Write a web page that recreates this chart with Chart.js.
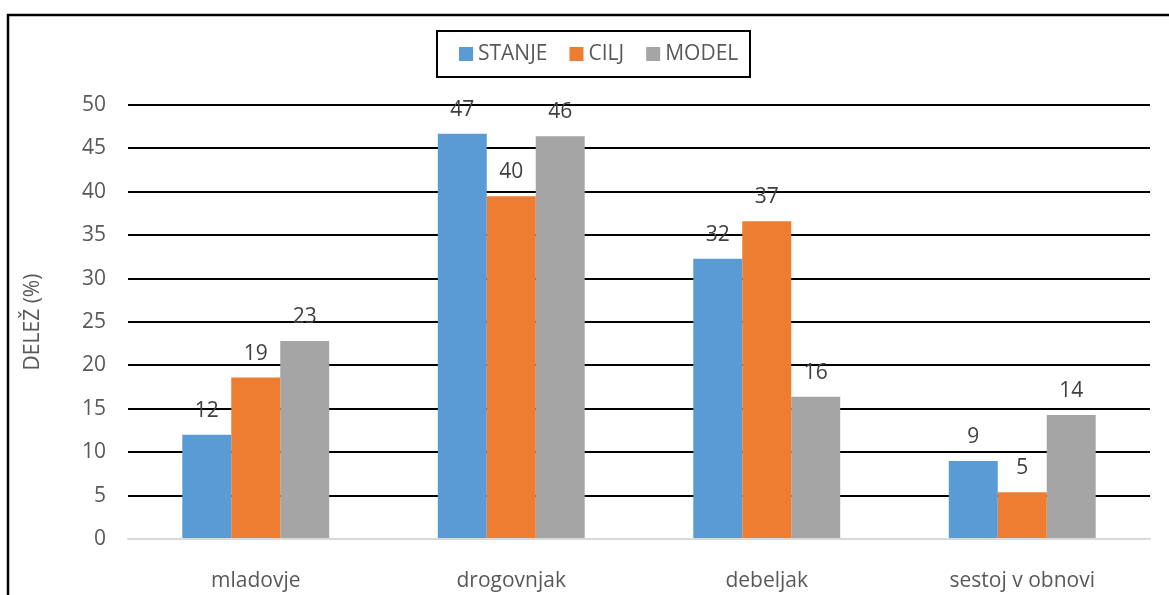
<!DOCTYPE html>
<html>
<head>
<meta charset="utf-8">
<script src="https://cdn.jsdelivr.net/npm/chart.js@4.4.1/dist/chart.umd.min.js"></script>
<style>
  body { margin: 0; background: #fff; }
  canvas { display: block; }
</style>
</head>
<body>
<canvas id="myChart" width="1169" height="595"></canvas>
<script>
const categories = ['mladovje', 'drogovnjak', 'debeljak', 'sestoj v obnovi'];
const stanje = [12.0, 46.7, 32.3, 9.0];
const cilj = [18.6, 39.5, 36.6, 5.4];
const model = [22.8, 46.4, 16.4, 14.3];
const yTicks = [0, 5, 10, 15, 20, 25, 30, 35, 40, 45, 50];

const seriesNames = ['STANJE', 'CILJ', 'MODEL'];
const seriesColors = ['#5B9BD5', '#ED7D31', '#A5A5A5'];

const FONT = "'Open Sans', sans-serif";

// outer frame plus the boxed legend at the top
const framePlugin = {
  id: 'frame',
  afterDraw(chart) {
    const ctx = chart.ctx;
    ctx.save();
    ctx.strokeStyle = '#000';
    ctx.lineWidth = 2.5;
    ctx.strokeRect(8, 15, 1200, 700);

    // legend box
    ctx.lineWidth = 2;
    ctx.strokeRect(437, 31, 313, 46);
    ctx.font = '21px ' + FONT;
    ctx.textBaseline = 'middle';
    let x = 459;
    chart.data.datasets.forEach((ds) => {
      ctx.fillStyle = ds.backgroundColor;
      ctx.fillRect(x, 47, 14, 14);
      ctx.fillStyle = '#595959';
      ctx.fillText(ds.label, x + 19, 54);
      x += 19 + ctx.measureText(ds.label).width + 22;
    });
    ctx.restore();
  }
};

// rounded value above each bar
const valueLabels = {
  id: 'valueLabels',
  afterDatasetsDraw(chart) {
    const ctx = chart.ctx;
    ctx.save();
    ctx.font = '21px ' + FONT;
    ctx.fillStyle = '#404040';
    ctx.textAlign = 'center';
    ctx.textBaseline = 'alphabetic';
    chart.data.datasets.forEach((ds, i) => {
      chart.getDatasetMeta(i).data.forEach((bar, j) => {
        ctx.fillText(Math.round(ds.data[j]), bar.x, bar.y - 18);
      });
    });
    ctx.restore();
  }
};

const ctx = document.getElementById('myChart');
const myChart = new Chart(ctx, {
  type: 'bar',
  data: {
    labels: categories,
    datasets: [
      { label: seriesNames[0], data: stanje, backgroundColor: seriesColors[0] },
      { label: seriesNames[1], data: cilj, backgroundColor: seriesColors[1] },
      { label: seriesNames[2], data: model, backgroundColor: seriesColors[2] }
    ]
  },
  options: {
    responsive: false,
    animation: false,
    layout: {
      padding: { left: 0, right: 19, top: 105, bottom: 0 }
    },
    datasets: {
      bar: {
        barPercentage: 1,
        categoryPercentage: 0.575
      }
    },
    plugins: {
      legend: { display: false },
      tooltip: { enabled: false }
    },
    scales: {
      x: {
        grid: { display: false },
        border: { color: '#d9d9d9', width: 1.5 },
        ticks: {
          color: '#595959',
          font: { family: FONT, size: 21 },
          padding: 21
        },
        afterFit: (scale) => { scale.height = 56; }
      },
      y: {
        min: 0,
        max: 50,
        afterBuildTicks: (scale) => {
          scale.ticks = yTicks.map(v => ({ value: v }));
        },
        grid: {
          drawTicks: false,
          lineWidth: 2,
          color: (c) => (c.tick && c.tick.value === 0 ? '#d9d9d9' : '#000')
        },
        border: { display: false },
        ticks: {
          color: '#595959',
          font: { family: FONT, size: 21 },
          padding: 22
        },
        title: {
          display: true,
          text: 'DELEŽ (%)',
          color: '#595959',
          font: { family: FONT, size: 21 },
          padding: { top: 20, bottom: 0 }
        },
        afterFit: (scale) => { scale.width = 128; }
      }
    }
  },
  plugins: [framePlugin, valueLabels]
});
</script>
</body>
</html>
